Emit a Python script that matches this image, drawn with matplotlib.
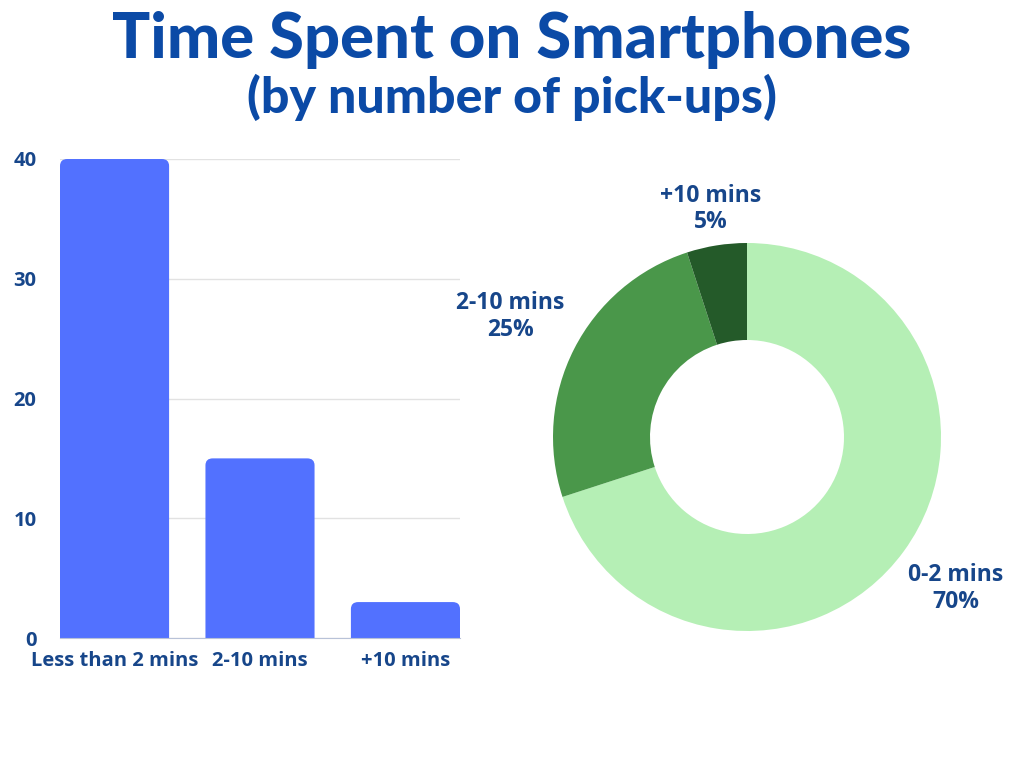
import numpy as np
import matplotlib.pyplot as plt
from matplotlib.patches import FancyBboxPatch

bar_labels = ['Less than 2 mins', '2-10 mins', '+10 mins']
bar_values = [40, 15, 3]
pie_labels = ['0-2 mins', '2-10 mins', '+10 mins']
pie_values = [70, 25, 5]
yticks = [0, 10, 20, 30, 40]

title = 'Time Spent on Smartphones'
subtitle = '(by number of pick-ups)'

text_color = '#17468a'
title_color = '#0b4aa6'
bar_color = '#5271ff'
pie_colors = ['#b5efb5', '#4a974a', '#245a29']
label_dist = [1.33, 1.37, 1.19]


def main():
    fig = plt.figure(figsize=(10.24, 7.68), dpi=100)
    fig.patch.set_facecolor('white')

    fig.text(0.5, 0.948, title, ha='center', va='center', fontsize=45.5,
             fontweight='black', family=['Lato', 'DejaVu Sans'], color=title_color)
    fig.text(0.5, 0.873, subtitle, ha='center', va='center', fontsize=36,
             fontweight='black', family=['Lato', 'DejaVu Sans'], color=title_color)

    # bar chart on the left
    ax = fig.add_axes([60 / 1024, 1 - 638 / 768, 400 / 1024, 479 / 768])
    x = np.arange(len(bar_values))
    bars = ax.bar(x, bar_values, width=0.75, color=bar_color, zorder=3)
    # rounded tops
    for r in bars:
        r.set_visible(False)
        p = FancyBboxPatch((r.get_x(), -1), r.get_width(), r.get_height() + 1,
                           boxstyle='round,pad=0,rounding_size=0.05', mutation_aspect=11.6,
                           facecolor=bar_color, linewidth=0, zorder=3)
        ax.add_patch(p)
    ax.set_xlim(-0.375, 2.375)
    ax.set_ylim(0, 40)
    ax.set_yticks(yticks)
    ax.set_xticks(x)
    ax.set_xticklabels(bar_labels)
    ax.grid(axis='y', color='#e2e2e2', linewidth=1, zorder=0)
    for s in ['top', 'right', 'left']:
        ax.spines[s].set_visible(False)
    ax.spines['bottom'].set_color('#b8c2d8')
    ax.spines['bottom'].set_zorder(4)
    ax.tick_params(length=0, labelsize=14.5, labelcolor=text_color, pad=9)
    ax.tick_params(axis='y', pad=17)
    for lab in ax.get_xticklabels() + ax.get_yticklabels():
        lab.set_fontweight('bold')
        lab.set_family(['Open Sans', 'DejaVu Sans'])

    # donut on the right
    ax2 = fig.add_axes([(747 - 194) / 1024, (768 - 437 - 194) / 768, 388 / 1024, 388 / 768])
    wedges, _ = ax2.pie(pie_values, colors=pie_colors, startangle=90, counterclock=False,
                        wedgeprops=dict(width=0.5, linewidth=0))
    for w, l, v, d in zip(wedges, pie_labels, pie_values, label_dist):
        ang = np.deg2rad((w.theta1 + w.theta2) / 2)
        ax2.text(d * np.cos(ang), d * np.sin(ang), f'{l}\n{v}%', ha='center', va='center',
                 fontsize=16.5, fontweight='bold', color=text_color,
                 family=['Open Sans', 'DejaVu Sans'], linespacing=1.15)
    ax2.set_xlim(-1, 1)
    ax2.set_ylim(-1, 1)
    ax2.set_aspect('equal')

    fig.savefig('out.png', dpi=100, facecolor='white')


if __name__ == '__main__':
    main()
